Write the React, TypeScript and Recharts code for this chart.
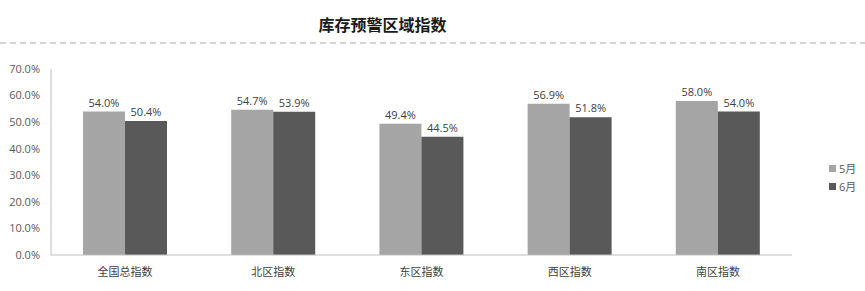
import { BarChart, Bar, XAxis, YAxis, LabelList } from 'recharts';

const regions = ['全国总指数', '北区指数', '东区指数', '西区指数', '南区指数'];
const may = [54.0, 54.7, 49.4, 56.9, 58.0];
const june = [50.4, 53.9, 44.5, 51.8, 54.0];
const yTicks = [0, 10, 20, 30, 40, 50, 60, 70];
const seriesLabels = ['5月', '6月'];
const seriesColors = ['#a5a5a5', '#595959'];

const data = regions.map((name, i) => ({ name, may: may[i], june: june[i] }));

const FONT = "'Open Sans', 'Noto Sans CJK SC', sans-serif";
const pct = (v: number) => `${Number(v).toFixed(1)}%`;

// legend drawn outside the chart so it doesn't eat into the plot area
function LegendBox() {
  return (
    <div style={{ position: 'absolute', left: 829, top: 159, fontFamily: FONT, fontSize: 11, color: '#595959' }}>
      {seriesLabels.map((label, i) => (
        <div key={label} style={{ display: 'flex', alignItems: 'center', height: 18 }}>
          <span style={{ width: 7, height: 7, background: seriesColors[i], marginRight: 3 }} />
          {label}
        </div>
      ))}
    </div>
  );
}

export default function App() {
  return (
    <div style={{ position: 'absolute', left: 0, top: 0, width: 865, height: 291, background: '#fff' }}>
      <div
        style={{
          position: 'absolute', left: 0, width: 765, top: 12, textAlign: 'center',
          fontFamily: "'Noto Sans CJK SC', sans-serif", fontWeight: 'bold', fontSize: 16, color: '#1a1a1a',
          lineHeight: '24px',
        }}
      >
        库存预警区域指数
      </div>
      <svg width={865} height={4} style={{ position: 'absolute', left: 0, top: 41 }}>
        <line x1={0} x2={865} y1={2} y2={2} stroke="#a6a6a6" strokeWidth={1} strokeDasharray="6 4" />
      </svg>
      <BarChart
        width={865}
        height={291}
        data={data}
        margin={{ top: 69, right: 73, bottom: 6, left: 0 }}
        barCategoryGap="21.6%"
        barGap={0}
      >
        <XAxis
          dataKey="name"
          height={30}
          tickSize={0}
          tickMargin={13}
          axisLine={{ stroke: '#bfbfbf' }}
          tick={{ fill: '#404040', fontSize: 11, fontFamily: FONT }}
        />
        <YAxis
          width={51}
          domain={[0, 70]}
          ticks={yTicks}
          tickFormatter={pct}
          tickSize={0}
          tickMargin={11}
          axisLine={{ stroke: '#bfbfbf' }}
          tick={{ fill: '#595959', fontSize: 11, fontFamily: FONT }}
        />
        <Bar dataKey="may" name={seriesLabels[0]} fill={seriesColors[0]} isAnimationActive={false}>
          <LabelList dataKey="may" position="top" formatter={pct} fill="#404040" fontSize={11} fontFamily={FONT} />
        </Bar>
        <Bar dataKey="june" name={seriesLabels[1]} fill={seriesColors[1]} isAnimationActive={false}>
          <LabelList dataKey="june" position="top" formatter={pct} fill="#404040" fontSize={11} fontFamily={FONT} />
        </Bar>
      </BarChart>
      <LegendBox />
    </div>
  );
}
